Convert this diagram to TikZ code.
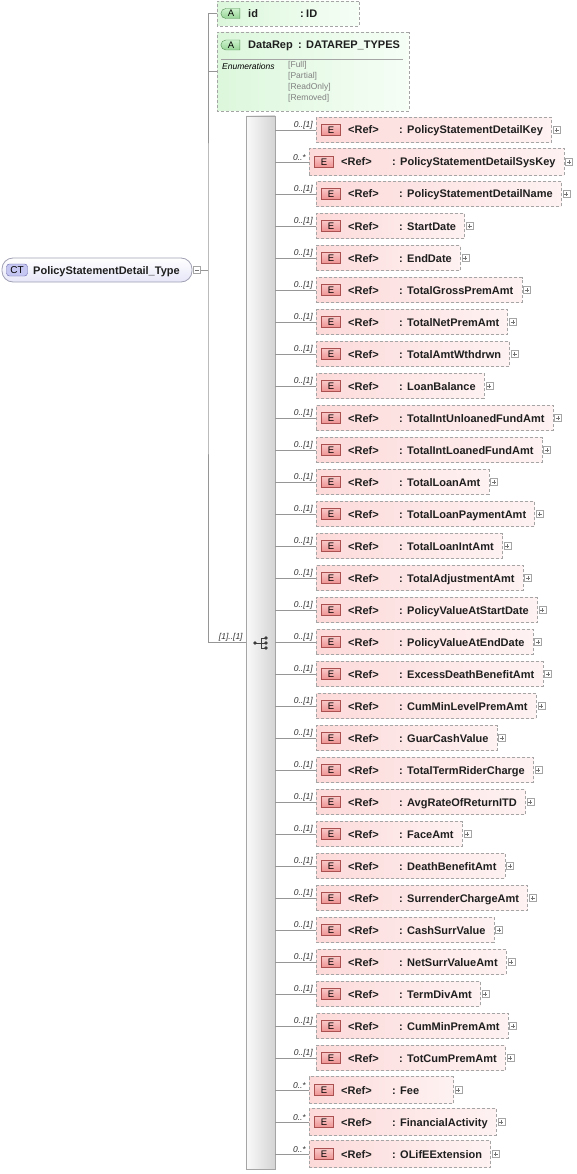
\documentclass[tikz,border=0pt]{standalone}
\usepackage{fontspec}
\setmainfont{Liberation Sans}
\usepackage{tikz}
\usetikzlibrary{shapes.misc, positioning, calc, backgrounds}
\definecolor{linegray}{RGB}{150,150,150}
\definecolor{boxgray}{RGB}{165,165,165}
\definecolor{elpinkL}{RGB}{253,218,218}
\definecolor{elpinkR}{RGB}{254,242,242}
\definecolor{attgreenL}{RGB}{220,247,220}
\definecolor{attgreenR}{RGB}{246,254,246}
\definecolor{ebadgeT}{RGB}{250,200,200}
\definecolor{ebadgeB}{RGB}{238,145,145}
\definecolor{ebadgeD}{RGB}{170,80,80}
\definecolor{abadgeT}{RGB}{205,242,205}
\definecolor{abadgeB}{RGB}{150,212,150}
\definecolor{abadgeD}{RGB}{80,140,80}
\definecolor{ctfill}{RGB}{230,230,248}
\definecolor{ctborder}{RGB}{160,160,180}
\definecolor{ctbadgeF}{RGB}{198,198,242}
\definecolor{ctbadgeD}{RGB}{100,100,170}
\definecolor{seqL}{RGB}{250,250,250}
\definecolor{seqR}{RGB}{212,212,212}
\definecolor{seqD}{RGB}{165,165,165}
\definecolor{icongray}{RGB}{60,60,60}
\definecolor{enumgray}{RGB}{128,128,128}
\newlength{\nameend}
\newcommand{\nmfont}{\fontsize{11}{13}\selectfont\bfseries}

\begin{document}
\begin{tikzpicture}[x=1pt, y=-1pt,
  conn/.style={draw=linegray, line width=0.8pt},
  dashbox/.style={draw=boxgray, dash pattern=on 3pt off 2pt, line width=0.7pt},
  elbox/.style={dashbox, left color=elpinkL, right color=elpinkR, inner sep=0pt},
  attrbox/.style={dashbox, chamfered rectangle, chamfered rectangle corners={north west, south west},
    chamfered rectangle sep=5pt, left color=attgreenL, right color=attgreenR, inner sep=0pt},
  ebadge/.style={draw=ebadgeD, top color=ebadgeT, bottom color=ebadgeB, minimum width=19pt,
    minimum height=11pt, inner sep=0pt, font=\fontsize{9.5}{10}\selectfont},
  abadge/.style={rounded rectangle, rounded rectangle right arc=none, draw=abadgeD,
    top color=abadgeT, bottom color=abadgeB, minimum width=19pt, minimum height=10pt,
    inner sep=0pt, font=\fontsize{9.5}{10}\selectfont},
  ctbox/.style={draw=ctborder, rounded corners=11pt, top color=white, bottom color=ctfill, line width=0.8pt},
  ctbadge/.style={draw=ctbadgeD, fill=ctbadgeF, rounded corners=3pt, minimum width=21pt,
    minimum height=12pt, inner sep=0pt, font=\fontsize{10}{11}\selectfont},
  seqbar/.style={draw=seqD, left color=seqL, right color=seqR},
  nm/.style={inner sep=0pt, text=black!88, font=\nmfont},
  occ/.style={inner sep=1pt, text=black!80, font=\fontsize{8.5}{10}\selectfont\itshape},
  enum/.style={inner sep=0pt, text=enumgray, font=\fontsize{8.5}{10}\selectfont},
  plusbox/.style={draw=boxgray, fill=white, minimum size=7pt, inner sep=0pt,
    path picture={\draw[black!55, line width=0.6pt]
      ([xshift=-2pt]path picture bounding box.center) -- ([xshift=2pt]path picture bounding box.center)
      ([yshift=-2pt]path picture bounding box.center) -- ([yshift=2pt]path picture bounding box.center);}},
  minusbox/.style={draw=boxgray, fill=white, minimum size=7pt, inner sep=0pt,
    path picture={\draw[black!55, line width=0.6pt]
      ([xshift=-2pt]path picture bounding box.center) -- ([xshift=2pt]path picture bounding box.center);}}]
  \useasboundingbox (0,0) rectangle (576,1174);

  % complex type
  \node[ctbox, minimum width=190pt, minimum height=24pt] (ct) at (97,270) {};
  \node[ctbadge] (ctb) at (17,270) {CT};
  \node[nm, anchor=base west] (ctn) at (33,274) {PolicyStatementDetail\_Type};
  \node[minusbox, right=1pt of ct] (ctm) {};
  \coordinate (trunk) at (208,270);

  % attributes
  \node[attrbox, minimum width=142pt, minimum height=25pt] (ida) at (288,13.5) {};
  \node[abadge] at (231,13.5) {A};
  \node[nm, anchor=base west] at (248,17.5) {id};
  \node[nm, anchor=base west] at (300,17.5) {:};
  \node[nm, anchor=base west] at (306,17.5) {ID};

  \node[attrbox, minimum width=192pt, minimum height=79pt] (rep) at (313,71.5) {};
  \node[abadge] at (231,45) {A};
  \node[nm, anchor=base west] at (248,49) {DataRep};
  \node[nm, anchor=base west] at (298,49) {:};
  \node[nm, anchor=base west] at (306,49) {DATAREP\_TYPES};
  \draw[boxgray, line width=0.7pt] (221,59) -- (403,59);
  \node[enum, text=black, font=\fontsize{8.5}{10}\selectfont\itshape, anchor=base west] at (222,70) {Enumerations};
  \foreach \v [count=\k from 0] in {[Full],[Partial],[ReadOnly],[Removed]}
    \node[enum, anchor=base west] at (288,68+11*\k) {\v};

  % sequence
  \node[seqbar, minimum width=29pt, minimum height=1053pt, inner sep=0pt] (seq) at (260.5,642.5) {};
  \fill[icongray] (255,643) circle (1.9pt);
  \draw[icongray, line width=0.9pt] (255,643) -- (261,643) (261,638) -- (261,648)
    (261,638) -- (266,638) (261,643) -- (266,643) (261,648) -- (266,648);
  \foreach \t in {638,643,648} \fill[icongray] (266,\t) circle (1.9pt);
  \node[occ, above left=0pt and 2pt of seq.west] {[1]..[1]};

  \draw[conn] (ctm) -- (trunk);
  \draw[conn] (ida.west) -| (trunk) |- (seq.west);
  \draw[conn] (rep.west) -- (rep.west -| trunk);

  % elements
  \foreach \nm/\bx [count=\i from 0] in {PolicyStatementDetailKey/316, PolicyStatementDetailSysKey/309,
    PolicyStatementDetailName/316, StartDate/316, EndDate/316, TotalGrossPremAmt/316,
    TotalNetPremAmt/316, TotalAmtWthdrwn/316, LoanBalance/316, TotalIntUnloanedFundAmt/316,
    TotalIntLoanedFundAmt/316, TotalLoanAmt/316, TotalLoanPaymentAmt/316, TotalLoanIntAmt/316,
    TotalAdjustmentAmt/316, PolicyValueAtStartDate/316, PolicyValueAtEndDate/316,
    ExcessDeathBenefitAmt/316, CumMinLevelPremAmt/316, GuarCashValue/316, TotalTermRiderCharge/316,
    AvgRateOfReturnITD/316, FaceAmt/316, DeathBenefitAmt/316, SurrenderChargeAmt/316,
    CashSurrValue/316, NetSurrValueAmt/316, TermDivAmt/316, CumMinPremAmt/316, TotCumPremAmt/316,
    Fee/309, FinancialActivity/309, OLifEExtension/309}{
    \pgfmathsetmacro{\yy}{130+32*\i}
    \ifnum\bx=309 \def\occtxt{0..*}\def\hh{27}\else\def\occtxt{0..[1]}\def\hh{25}\fi
    \node[ebadge] at (\bx+15,\yy) {E};
    \node[nm, anchor=base west] at (\bx+32,\yy+4) {<Ref>};
    \node[nm, anchor=base west] at (\bx+83,\yy+4) {:};
    \node[nm, anchor=base west] (n\i) at (\bx+91,\yy+4) {\nm};
    \pgfextractx{\nameend}{\pgfpointanchor{n\i}{east}}
    \pgfmathsetmacro{\ww}{max(\nameend+8-\bx, 144)}
    \begin{scope}[on background layer]
      \node[elbox, minimum width=\ww, minimum height=\hh, anchor=west] (e\i) at (\bx,\yy) {};
    \end{scope}
    \node[plusbox, right=1pt of e\i] (p\i) {};
    \node[occ, above left=0pt and 2pt of e\i.west] {\occtxt};
    \draw[conn] (seq.east |- e\i.west) -- (e\i.west);
  }
\end{tikzpicture}
\end{document}
